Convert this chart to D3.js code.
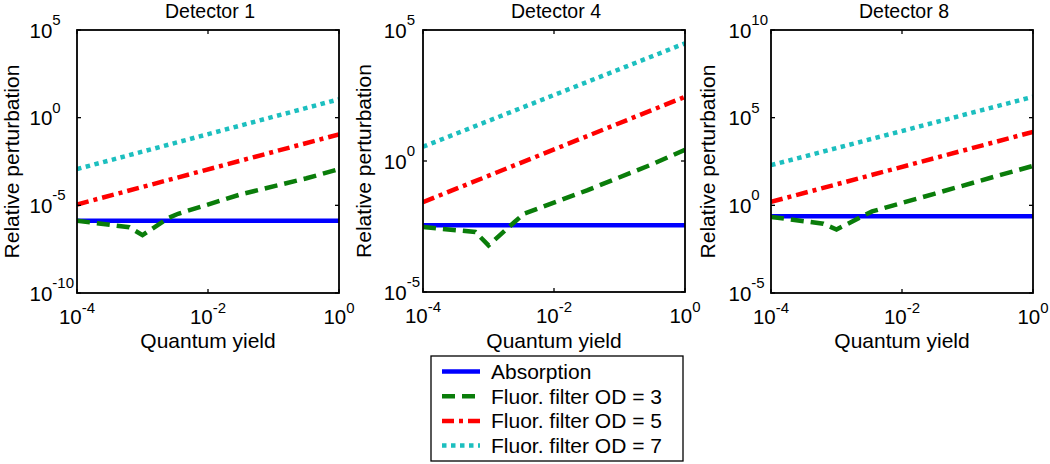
<!DOCTYPE html>
<html><head><meta charset="utf-8">
<script src="https://cdn.jsdelivr.net/npm/d3@7"></script>
<style>
body{margin:0;background:#fff}
svg{display:block}
text{font-family:"Liberation Sans",Arial,sans-serif;fill:#000}
</style>
</head><body>
<svg id="chart" width="1050" height="464"></svg>
<script>
// ---------- data ----------
const panelTitles = ["Detector 1", "Detector 4", "Detector 8"];
const xTickValues = [1e-4, 1e-2, 1];
const xTickExps = ["-4", "-2", "0"];
const yDomains = [[1e-10, 1e5], [1e-5, 1e5], [1e-5, 1e10]];
const yTickValues = [[1e-10, 1e-5, 1, 1e5], [1e-5, 1, 1e5], [1e-5, 1, 1e5, 1e10]];
const yTickExps = [["-10", "-5", "0", "5"], ["-5", "0", "5"], ["-5", "0", "5", "10"]];

// quantum yield sample points
const yieldEnds = [1e-4, 1];
const yieldOD3 = [1e-4, 6.3e-4, 1e-3, 2.5e-3, 3.5e-3, 0.032, 0.32, 1];

// relative perturbation per detector
const absorption = [[1.32e-6, 1.32e-6], [3.5e-3, 3.5e-3], [0.24, 0.24]];
const filterOD3 = [
  [1.32e-6, 5.6e-7, 2.0e-7, 1.9e-6, 3.3e-6, 4.3e-5, 3.5e-4, 1.17e-3],
  [3.0e-3, 1.95e-3, 6.0e-4, 4.7e-3, 9.8e-3, 0.076, 0.76, 2.7],
  [0.22, 0.089, 0.042, 0.24, 0.45, 4.7, 54, 178]
];
const filterOD5 = [[1.12e-5, 0.112], [0.027, 282], [1.58, 1.55e4]];
const filterOD7 = [[1.17e-3, 11.2], [3.5, 3.1e4], [195, 1.55e6]];
const seriesNames = ["Absorption", "Fluor. filter OD = 3", "Fluor. filter OD = 5", "Fluor. filter OD = 7"];

// ---------- styles ----------
const seriesStyles = [
  {color: "#0000ff", dash: null},
  {color: "#0a7d0a", dash: "13,7"},
  {color: "#ff0000", dash: "12,5,4,5"},
  {color: "#1cbfbf", dash: "4.5,4.5"}
];
const lineW = 4.5;

const svg = d3.select("#chart");
const boxes = [
  {left: 77, right: 339, top: 30, bottom: 293, ylab: 58},
  {left: 423, right: 685, top: 30, bottom: 292, ylab: 52},
  {left: 771, right: 1033, top: 30, bottom: 293, ylab: 56}
];

boxes.forEach((b, i) => {
  const x = d3.scaleLog().domain([1e-4, 1]).range([b.left, b.right]);
  const y = d3.scaleLog().domain(yDomains[i]).range([b.bottom, b.top]);
  const g = svg.append("g");
  const clipId = "clip" + i;
  svg.append("clipPath").attr("id", clipId).append("rect")
    .attr("x", b.left).attr("y", b.top).attr("width", b.right - b.left).attr("height", b.bottom - b.top);

  const series = [
    {xs: yieldEnds, ys: absorption[i]},
    {xs: yieldOD3, ys: filterOD3[i]},
    {xs: yieldEnds, ys: filterOD5[i]},
    {xs: yieldEnds, ys: filterOD7[i]}
  ];
  const line = d3.line().x(d => x(d[0])).y(d => y(d[1]));
  const lg = g.append("g").attr("clip-path", `url(#${clipId})`);
  series.forEach((s, k) => {
    lg.append("path")
      .attr("d", line(s.xs.map((v, j) => [v, s.ys[j]])))
      .attr("fill", "none")
      .attr("stroke", seriesStyles[k].color)
      .attr("stroke-width", lineW)
      .attr("stroke-dasharray", seriesStyles[k].dash)
      .attr("stroke-linejoin", "miter");
  });

  // ticks (inward, both sides)
  const tl = 4;
  xTickValues.forEach(v => {
    g.append("line").attr("x1", x(v)).attr("x2", x(v)).attr("y1", b.bottom).attr("y2", b.bottom - tl).attr("stroke", "#000").attr("stroke-width", 1.3);
    g.append("line").attr("x1", x(v)).attr("x2", x(v)).attr("y1", b.top).attr("y2", b.top + tl).attr("stroke", "#000").attr("stroke-width", 1.3);
  });
  yTickValues[i].forEach(v => {
    g.append("line").attr("x1", b.left).attr("x2", b.left + tl).attr("y1", y(v)).attr("y2", y(v)).attr("stroke", "#000").attr("stroke-width", 1.3);
    g.append("line").attr("x1", b.right).attr("x2", b.right - tl).attr("y1", y(v)).attr("y2", y(v)).attr("stroke", "#000").attr("stroke-width", 1.3);
  });

  // frame
  g.append("rect").attr("x", b.left).attr("y", b.top).attr("width", b.right - b.left).attr("height", b.bottom - b.top)
    .attr("fill", "none").attr("stroke", "#000").attr("stroke-width", 1.8);

  // x tick labels
  xTickValues.forEach((v, j) => {
    const t = g.append("text").attr("x", x(v)).attr("y", b.bottom + 31).attr("text-anchor", "middle").attr("font-size", 20.5);
    t.append("tspan").text("10");
    t.append("tspan").attr("dy", -11).attr("font-size", 15).text(xTickExps[j]);
  });

  // y tick labels: base "10" at a common position, widest ends near the axis
  const labels = yTickValues[i].map((v, j) => {
    const t = g.append("text").attr("y", y(v) + 7.5).attr("font-size", 20.5);
    t.append("tspan").text("10");
    t.append("tspan").attr("dy", -12.5).attr("font-size", 15).text(yTickExps[i][j]);
    return t;
  });
  const maxW = d3.max(labels, t => t.node().getComputedTextLength());
  labels.forEach(t => t.attr("x", b.left - 3 - maxW));

  // title
  g.append("text").attr("x", (b.left + b.right) / 2 + 2).attr("y", 18).attr("text-anchor", "middle").attr("font-size", 19.5).text(panelTitles[i]);
  // x label
  g.append("text").attr("x", (b.left + b.right) / 2).attr("y", 348).attr("text-anchor", "middle").attr("font-size", 21).text("Quantum yield");
  // y label
  g.append("text").attr("transform", `translate(${b.left - b.ylab},${(b.top + b.bottom) / 2}) rotate(-90)`)
    .attr("text-anchor", "middle").attr("font-size", 21).text("Relative perturbation");
});

// legend
const lgd = svg.append("g");
lgd.append("rect").attr("x", 431).attr("y", 356).attr("width", 252).attr("height", 105)
  .attr("fill", "#fff").attr("stroke", "#000").attr("stroke-width", 1.3);
seriesNames.forEach((name, k) => {
  const yy = 371.5 + k * 24.7;
  lgd.append("line").attr("x1", 442).attr("x2", 480).attr("y1", yy).attr("y2", yy)
    .attr("stroke", seriesStyles[k].color).attr("stroke-width", lineW)
    .attr("stroke-dasharray", seriesStyles[k].dash);
  lgd.append("text").attr("x", 491).attr("y", yy + 7.5).attr("font-size", 21).text(name);
});
</script>
</body></html>
